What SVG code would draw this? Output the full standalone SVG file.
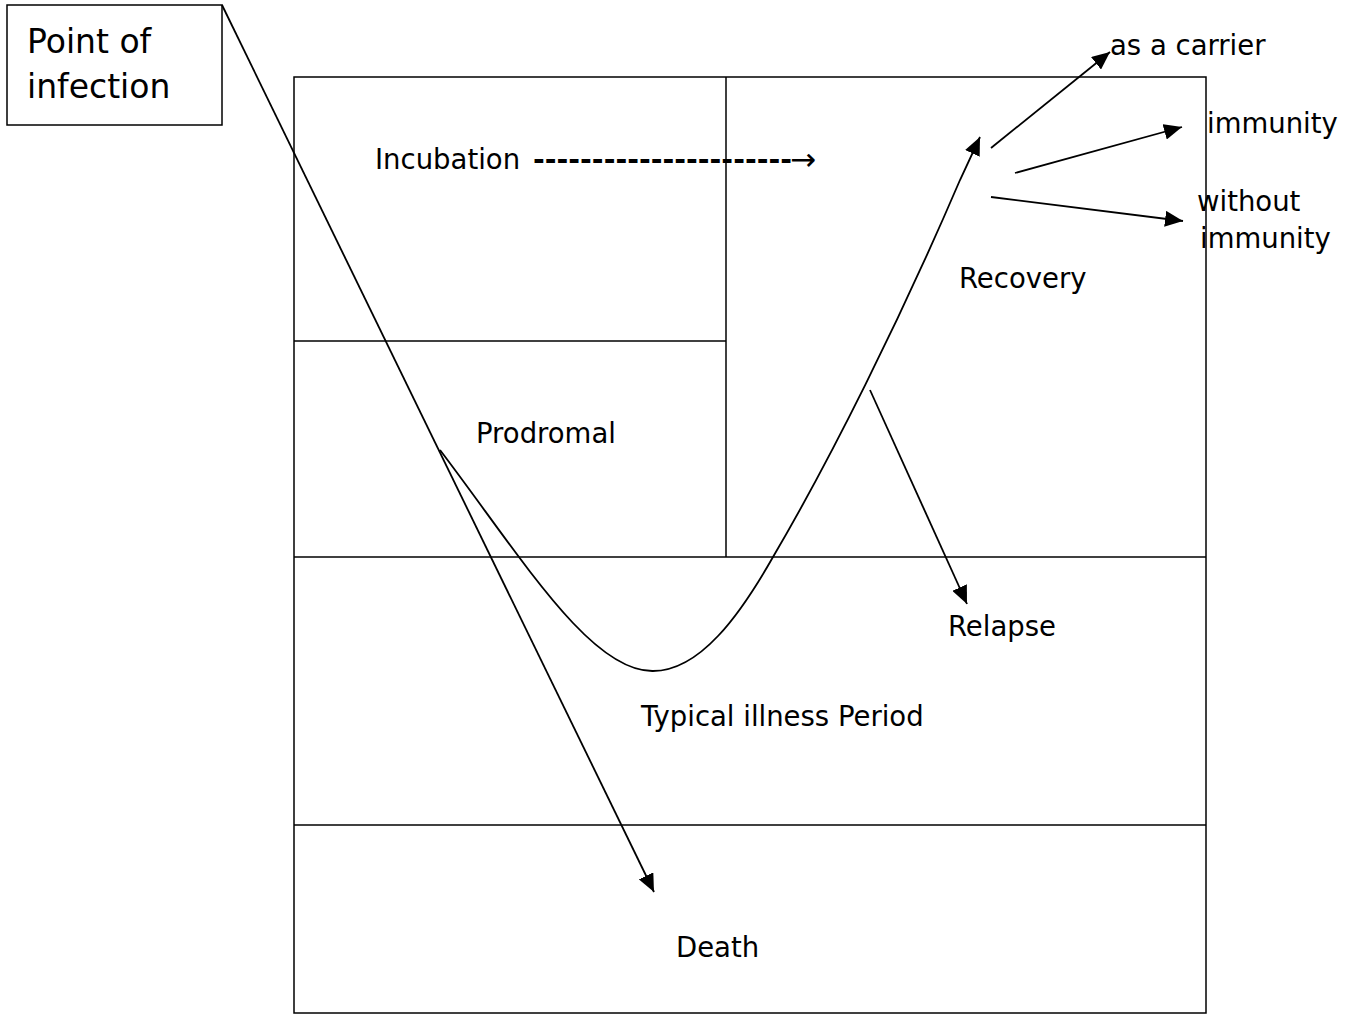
<svg xmlns="http://www.w3.org/2000/svg" width="1349" height="1015" viewBox="0 0 1349 1015">
<style>
.b{fill:none;stroke:#000;stroke-width:1.5}
.c{fill:none;stroke:#000;stroke-width:1.8}
.t{font-family:"DejaVu Sans",Verdana,sans-serif;font-size:27.5px;fill:#000}
.big{font-size:33px}
</style>
<defs>
<marker id="ah" markerUnits="userSpaceOnUse" markerWidth="20" markerHeight="16" viewBox="0 0 20 16" refX="18" refY="8" orient="auto">
<path d="M0,0 L18,8 L0,16 Z" fill="#000"/>
</marker>
</defs>
<rect width="1349" height="1015" fill="#fff"/>
<g id="frame">
<rect x="294" y="77" width="912" height="936" class="b"/>
<line x1="294" y1="341" x2="726" y2="341" class="b"/>
<line x1="726" y1="77" x2="726" y2="557" class="b"/>
<line x1="294" y1="557" x2="1206" y2="557" class="b"/>
<line x1="294" y1="825" x2="1206" y2="825" class="b"/>
</g>
<g id="point-of-infection">
<rect x="7" y="5" width="215" height="120" class="b"/>
<text class="t big" x="27" y="53">Point of</text>
<text class="t big" x="27" y="98">infection</text>
</g>
<g id="incubation"><text class="t" x="375" y="169">Incubation</text><text class="t" x="533" y="169" textLength="259" lengthAdjust="spacingAndGlyphs" style="font-weight:bold">----------------------</text><text class="t" x="790" y="170" style="font-size:31px">→</text></g>
<g id="prodromal"><text class="t" x="476" y="443">Prodromal</text></g>
<g id="recovery"><text class="t" x="959" y="288">Recovery</text></g>
<g id="relapse"><text class="t" x="948" y="636">Relapse</text></g>
<g id="typical"><text class="t" x="641" y="726">Typical illness Period</text></g>
<g id="death"><text class="t" x="676" y="957">Death</text></g>
<g id="carrier"><text class="t" x="1110" y="55">as a carrier</text></g>
<g id="immunity"><text class="t" x="1207" y="133">immunity</text></g>
<g id="without-immunity"><text class="t" x="1197" y="211">without</text><text class="t" x="1200" y="248">immunity</text></g>
<g id="connectors">
<line x1="222" y1="5" x2="654" y2="892" class="c" marker-end="url(#ah)"/>
<path d="M440,450 C520,555 590,672 653,671 C700,671 740,615 773,557 C830,460 900,320 960,180 L980,137" class="c" marker-end="url(#ah)"/>
<line x1="870" y1="390" x2="967" y2="604" class="c" marker-end="url(#ah)"/>
<line x1="991" y1="148" x2="1110" y2="52" class="c" marker-end="url(#ah)"/>
<line x1="1015" y1="173" x2="1182" y2="127" class="c" marker-end="url(#ah)"/>
<line x1="991" y1="197" x2="1183" y2="221" class="c" marker-end="url(#ah)"/>
</g>
</svg>
